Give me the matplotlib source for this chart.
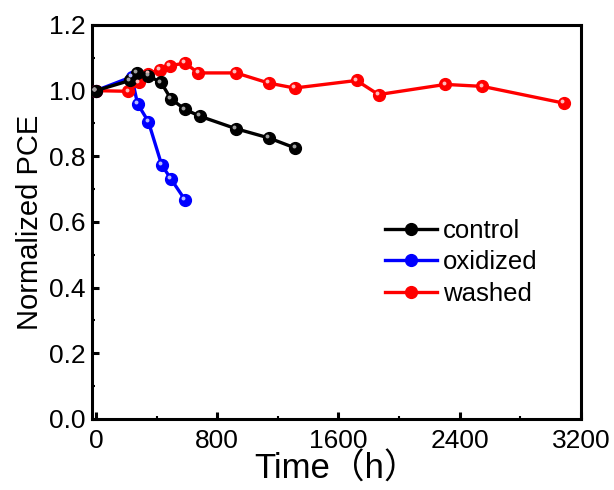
import matplotlib.pyplot as plt
import matplotlib.transforms as mtransforms
from matplotlib.ticker import MultipleLocator

plt.rcParams['font.family'] = ['Liberation Sans', 'Noto Sans CJK SC']

# data
control_t = [0, 225, 269, 346, 430, 495, 588, 687, 925, 1141, 1317]
control_pce = [1.0, 1.031, 1.055, 1.045, 1.025, 0.975, 0.943, 0.922, 0.884, 0.856, 0.825]

oxidized_t = [0, 236, 275, 346, 434, 494, 590]
oxidized_pce = [1.0, 1.042, 0.96, 0.906, 0.774, 0.732, 0.666]

washed_t = [0, 214, 286, 346, 423, 489, 588, 676, 925, 1141, 1311, 1720, 1865, 2306, 2551, 3087]
washed_pce = [1.0, 0.998, 1.025, 1.052, 1.064, 1.076, 1.084, 1.054, 1.054, 1.023, 1.008,
              1.031, 0.988, 1.019, 1.013, 0.962]

series = [
    ("oxidized", oxidized_t, oxidized_pce, "#0000ff", "#b8bcff"),
    ("washed", washed_t, washed_pce, "#ff0000", "#ffbcbc"),
    ("control", control_t, control_pce, "#000000", "#a0a0a0"),
]

fig = plt.figure(figsize=(6.14, 4.9), dpi=100)
ax = fig.add_axes([0.150, 0.145, 0.796, 0.804])

# highlight dot shifted up-left to mimic the shaded balls
hi_shift = mtransforms.offset_copy(ax.transData, fig=fig, x=-1.3, y=1.3, units='points')

handles = {}
for name, t, y, col, hi in series:
    ln, = ax.plot(t, y, '-o', color=col, lw=2.4, ms=8.5, mec=col, mfc=col, label=name, zorder=3)
    ax.plot(t, y, 'o', color=hi, ms=2.8, mec='none', zorder=4, transform=hi_shift)
    handles[name] = ln

ax.set_xlim(-25, 3200)
ax.set_ylim(0, 1.2)
ax.xaxis.set_major_locator(MultipleLocator(800))
ax.xaxis.set_minor_locator(MultipleLocator(400))
ax.yaxis.set_major_locator(MultipleLocator(0.2))
ax.yaxis.set_minor_locator(MultipleLocator(0.1))
ax.yaxis.set_major_formatter(plt.FuncFormatter(lambda v, p: f"{v:.1f}"))

ax.tick_params(which='major', direction='in', length=5, width=2.2, labelsize=19)
ax.tick_params(axis='x', which='major', pad=7)
ax.tick_params(axis='y', which='major', pad=5)
ax.tick_params(which='minor', direction='in', length=2.5, width=1.5)
for s in ax.spines.values():
    s.set_linewidth(2.2)

ax.set_xlabel("Time（h）", fontsize=25, labelpad=0)
ax.set_ylabel("Normalized PCE", fontsize=21, labelpad=3)

ax.legend([handles["control"], handles["oxidized"], handles["washed"]],
          ["control", "oxidized", "washed"],
          loc='upper left', bbox_to_anchor=(0.60, 0.507), frameon=False,
          fontsize=18.5, handlelength=2.0, handletextpad=0.25, labelspacing=0.28,
          borderpad=0, borderaxespad=0)

fig.savefig("out.png", dpi=100)
